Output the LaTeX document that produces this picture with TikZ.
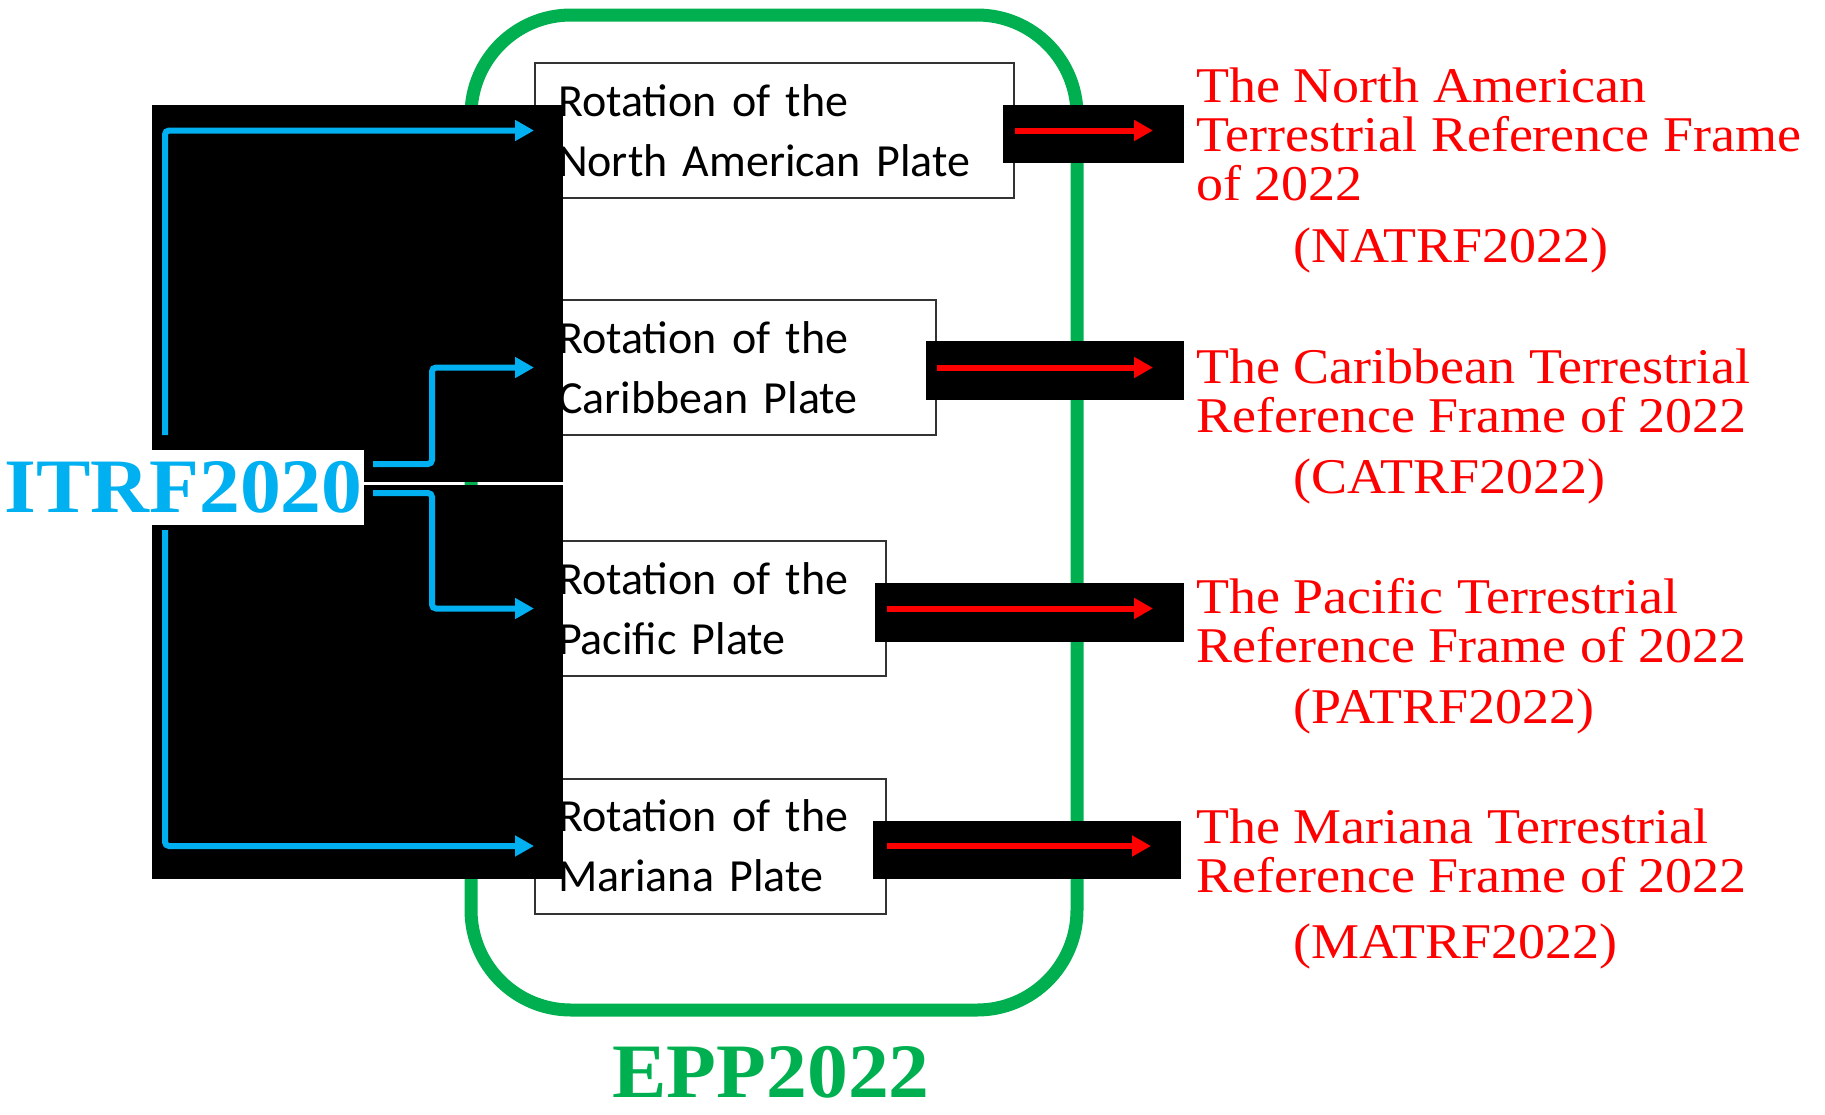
\documentclass[tikz,border=0pt]{standalone}
\usepackage{fontspec}
\newfontfamily\boxfont{Carlito}
\newfontfamily\framefont{Liberation Serif}[FakeStretch=1.08]
\newfontfamily\namefont{Liberation Serif}[FakeStretch=1.06]
\usetikzlibrary{positioning,arrows.meta}
\definecolor{itrfblue}{HTML}{00B0F0}
\definecolor{eppgreen}{HTML}{00B050}

\begin{document}
\begin{tikzpicture}[x=0.5pt,y=-0.5pt,
    plate/.style={rectangle,draw=black!80,line width=1pt,fill=white,anchor=west,
      minimum height=67.5pt,inner xsep=11.5pt,inner ysep=0pt,align=left,
      font=\boxfont\fontsize{23}{30}\selectfont},
    blackout/.style={fill=black},
    feed/.style={itrfblue,line width=3pt,rounded corners=2pt,
      -{Triangle[length=9.5pt,width=10pt]}},
    frameout/.style={draw=red,line width=3pt,-{Triangle[length=9.5pt,width=10pt]}},
    framelabel/.style={anchor=base west,align=left,inner sep=0pt,text=red,
      font=\framefont\fontsize{25}{24.5}\selectfont},
    bigname/.style={inner sep=0pt,font=\namefont\bfseries\fontsize{38.5}{40}\selectfont}]
    \useasboundingbox (0,0) rectangle (1825,1114);

    % EPP2022 frame
    \node[draw=eppgreen,line width=6.5pt,rounded corners=50pt,
      minimum width=303pt,minimum height=497.5pt] (epp) at (774,512.5) {};
    \node[bigname,text=eppgreen,anchor=base] (eppname) at (771,1097) {EPP2022};

    % plates
    \node[plate,text width=216.5pt] (na) at (534,130.5) {Rotation of the\\North American Plate};
    \node[plate,text width=177.5pt] (cb) at (534,367.5) {Rotation of the\\Caribbean Plate};
    \node[plate,text width=152.5pt] (pa) at (534,608.5) {Rotation of the\\Pacific Plate};
    \node[plate,text width=152.5pt] (ma) at (534,846) {Rotation of the\\Mariana Plate};

    % black blocks
    \fill[blackout] (152,105) rectangle (563,482);
    \fill[blackout] (152,485) rectangle (563,879);
    \fill[blackout] (1003,105) rectangle (1184,163);
    \fill[blackout] (926,341) rectangle (1184,400);
    \fill[blackout] (875,583) rectangle (1184,642);
    \fill[blackout] (873,821) rectangle (1181,879);

    % ITRF2020
    \node[bigname,text=itrfblue,fill=white,anchor=east,inner xsep=0.5pt,
      minimum height=37.5pt] (itrf) at (364,487.5) {ITRF2020};
    \coordinate (up) at (165,435);
    \coordinate (down) at (165,530);
    \coordinate (fa) at (373,464);
    \coordinate (fb) at (373,493);

    \draw[feed] (up) |- (na.west);
    \draw[feed] (fa) -- ++(59,0) |- (cb.west);
    \draw[feed] (fb) -- ++(59,0) |- (pa.west);
    \draw[feed] (down) |- (ma.west);

    % outputs
    \coordinate (na-tip) at (1153,130.5);
    \coordinate (cb-tip) at (1153,367.5);
    \coordinate (pa-tip) at (1153,608.5);
    \coordinate (ma-tip) at (1151,846);
    \path
    (na.east) edge[frameout] (na-tip)
    (cb.east) edge[frameout] (cb-tip)
    (pa.east) edge[frameout] (pa-tip)
    (ma.east) edge[frameout] (ma-tip);

    \node[framelabel] (natrf) at (1196,262) {The North American\\Terrestrial Reference Frame\\of 2022\\[6.5pt]\hspace*{48.5pt}(NATRF2022)};
    \node[framelabel] (catrf) at (1196,493) {The Caribbean Terrestrial\\Reference Frame of 2022\\[6pt]\hspace*{48.5pt}(CATRF2022)};
    \node[framelabel] (patrf) at (1196,723) {The Pacific Terrestrial\\Reference Frame of 2022\\[6pt]\hspace*{48.5pt}(PATRF2022)};
    \node[framelabel] (matrf) at (1196,958) {The Mariana Terrestrial\\Reference Frame of 2022\\[8.5pt]\hspace*{48.5pt}(MATRF2022)};
\end{tikzpicture}
\end{document}
